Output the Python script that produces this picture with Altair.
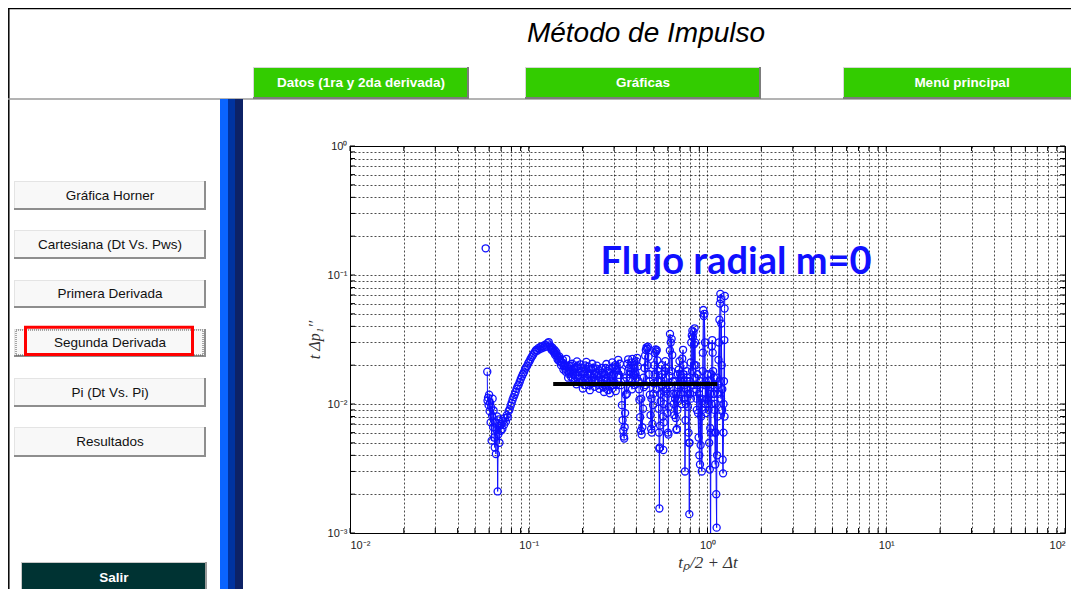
import altair as alt
import pandas as pd

# ---------------- texts ----------------
title_text = "Método de Impulso"
top_buttons = ["Datos (1ra y 2da derivada)", "Gráficas", "Menú principal"]
side_buttons = ["Gráfica Horner", "Cartesiana (Dt Vs. Pws)", "Primera Derivada",
                "Segunda Derivada", "Pi (Dt Vs. Pi)", "Resultados"]
exit_button = "Salir"
annotation = "Flujo radial m=0"
x_title = "tₚ/2 + Δt"
y_title = "t Δp₁′′"

# ---------------- axes ----------------
x_ticks = [0.01, 0.02, 0.03, 0.04, 0.05, 0.06, 0.07, 0.08, 0.09,
           0.1, 0.2, 0.3, 0.4, 0.5, 0.6, 0.7, 0.8, 0.9,
           1, 2, 3, 4, 5, 6, 7, 8, 9,
           10, 20, 30, 40, 50, 60, 70, 80, 90, 100]
y_ticks = [0.001, 0.002, 0.003, 0.004, 0.005, 0.006, 0.007, 0.008, 0.009,
           0.01, 0.02, 0.03, 0.04, 0.05, 0.06, 0.07, 0.08, 0.09,
           0.1, 0.2, 0.3, 0.4, 0.5, 0.6, 0.7, 0.8, 0.9, 1]
x_decades = [0.01, 0.1, 1, 10, 100]
x_decade_labels = ["10⁻²", "10⁻¹", "10⁰", "10¹", "10²"]
y_decades = [0.001, 0.01, 0.1, 1]
y_decade_labels = ["10⁻³", "10⁻²", "10⁻¹", "10⁰"]

# ---------------- data ----------------
outlier = [(0.0574, 0.161)]
early = [(0.0586, 0.0178), (0.0588, 0.0106), (0.0592, 0.0112), (0.0596, 0.0098),
         (0.0600, 0.0118), (0.0604, 0.0088), (0.0608, 0.0102), (0.0612, 0.0072),
         (0.0616, 0.0094), (0.0620, 0.0052), (0.0624, 0.0081), (0.0628, 0.0110),
         (0.0632, 0.0066), (0.0636, 0.0089), (0.0640, 0.0055), (0.0645, 0.0046),
         (0.0650, 0.0072), (0.0655, 0.0041), (0.0660, 0.0063), (0.0665, 0.0080),
         (0.0670, 0.0021), (0.0675, 0.0058), (0.0680, 0.0076), (0.0686, 0.0050),
         (0.0692, 0.0068), (0.0698, 0.0062)]
rise = [(0.0705, 0.0070), (0.0712, 0.0064), (0.0720, 0.0074), (0.0728, 0.0069),
        (0.0736, 0.0078), (0.0745, 0.0073), (0.0754, 0.0082), (0.0763, 0.0079),
        (0.0772, 0.0088), (0.0782, 0.0091), (0.0792, 0.0097), (0.0802, 0.0102),
        (0.0812, 0.0108), (0.0822, 0.0113), (0.0833, 0.0118), (0.0844, 0.0124),
        (0.0855, 0.0131), (0.0866, 0.0137), (0.0878, 0.0141), (0.0890, 0.0148),
        (0.0902, 0.0156), (0.0914, 0.0163), (0.0927, 0.0170), (0.0940, 0.0176),
        (0.0953, 0.0185), (0.0966, 0.0192), (0.0980, 0.0198), (0.0994, 0.0207),
        (0.1008, 0.0214), (0.1022, 0.0222), (0.1037, 0.0231), (0.1052, 0.0238),
        (0.1067, 0.0246), (0.1083, 0.0254), (0.1099, 0.0262), (0.1115, 0.0259),
        (0.1131, 0.0271), (0.1148, 0.0266), (0.1165, 0.0278), (0.1182, 0.0270),
        (0.1200, 0.0282), (0.1218, 0.0275), (0.1236, 0.0288), (0.1255, 0.0279),
        (0.1274, 0.0296), (0.1293, 0.0302)]
plateau = [(0.1313, 0.0285), (0.1333, 0.0268), (0.1353, 0.0274), (0.1374, 0.0256),
           (0.1395, 0.0262), (0.1416, 0.0246), (0.1438, 0.0238), (0.1460, 0.0228),
           (0.1482, 0.0234), (0.1505, 0.0214), (0.1528, 0.0208), (0.1551, 0.0220),
           (0.1575, 0.0196), (0.1599, 0.0188), (0.1623, 0.0224), (0.1648, 0.0182),
           (0.1673, 0.0171), (0.1699, 0.0196), (0.1725, 0.0162), (0.1751, 0.0205),
           (0.1778, 0.0175), (0.1805, 0.0150), (0.1833, 0.0192), (0.1861, 0.0214),
           (0.1889, 0.0166), (0.1918, 0.0148), (0.1947, 0.0203), (0.1977, 0.0178),
           (0.2007, 0.0132), (0.2038, 0.0158), (0.2069, 0.0199), (0.2100, 0.0212),
           (0.2132, 0.0170), (0.2165, 0.0140), (0.2198, 0.0128), (0.2232, 0.0186),
           (0.2266, 0.0205), (0.2300, 0.0160), (0.2336, 0.0136), (0.2371, 0.0175),
           (0.2407, 0.0198), (0.2444, 0.0152), (0.2482, 0.0131), (0.2520, 0.0168),
           (0.2558, 0.0190), (0.2597, 0.0145), (0.2637, 0.0124), (0.2677, 0.0158),
           (0.2718, 0.0204), (0.2760, 0.0180), (0.2802, 0.0139), (0.2844, 0.0121),
           (0.2888, 0.0166), (0.2932, 0.0210), (0.2977, 0.0192), (0.3022, 0.0147),
           (0.3069, 0.0126), (0.3116, 0.0183)]
plateau_more = [(0.1322, 0.0276), (0.1343, 0.0262), (0.1364, 0.0266), (0.1385, 0.0250),
                (0.1405, 0.0240), (0.1427, 0.0252), (0.1449, 0.0222), (0.1471, 0.0216),
                (0.1494, 0.0226), (0.1516, 0.0200), (0.1540, 0.0210), (0.1563, 0.0185),
                (0.1587, 0.0202), (0.1611, 0.0178), (0.1636, 0.0196), (0.1661, 0.0160),
                (0.1686, 0.0188), (0.1712, 0.0176), (0.1738, 0.0198), (0.1765, 0.0158),
                (0.1792, 0.0186), (0.1819, 0.0168), (0.1847, 0.0142), (0.1875, 0.0196),
                (0.1904, 0.0176), (0.1933, 0.0160), (0.1962, 0.0190), (0.1992, 0.0150),
                (0.2022, 0.0172), (0.2053, 0.0140), (0.2085, 0.0186), (0.2116, 0.0160),
                (0.2148, 0.0195), (0.2181, 0.0150), (0.2215, 0.0172), (0.2249, 0.0145),
                (0.2283, 0.0190), (0.2318, 0.0170), (0.2354, 0.0150), (0.2389, 0.0188),
                (0.2426, 0.0165), (0.2463, 0.0140), (0.2501, 0.0182), (0.2539, 0.0155),
                (0.2578, 0.0175), (0.2617, 0.0135), (0.2657, 0.0170), (0.2698, 0.0190),
                (0.2739, 0.0150), (0.2781, 0.0128), (0.2823, 0.0175), (0.2866, 0.0150),
                (0.2910, 0.0190), (0.2955, 0.0140), (0.3000, 0.0170), (0.3045, 0.0200),
                (0.3092, 0.0140)]
late = [(0.3165, 0.0220), (0.3200, 0.0168), (0.3240, 0.0205), (0.3280, 0.0140),
        (0.3320, 0.0098), (0.3350, 0.0075), (0.3380, 0.0062), (0.3400, 0.0056),
        (0.3420, 0.0054), (0.3440, 0.0066), (0.3460, 0.0085), (0.3490, 0.0118),
        (0.3520, 0.0160), (0.3560, 0.0205), (0.3600, 0.0222), (0.3640, 0.0190),
        (0.3680, 0.0158), (0.3720, 0.0178), (0.3760, 0.0210), (0.3800, 0.0224),
        (0.3840, 0.0200), (0.3880, 0.0168), (0.3920, 0.0140), (0.3960, 0.0172),
        (0.4000, 0.0215), (0.4040, 0.0228), (0.4080, 0.0196), (0.4120, 0.0150),
        (0.4160, 0.0108), (0.4200, 0.0079), (0.4240, 0.0062), (0.4280, 0.0058),
        (0.4320, 0.0066), (0.4360, 0.0092), (0.4400, 0.0135), (0.4440, 0.0190),
        (0.4480, 0.0238), (0.4520, 0.0262), (0.4560, 0.0275), (0.4600, 0.0268),
        (0.4640, 0.0278), (0.4680, 0.0232), (0.4720, 0.0170), (0.4760, 0.0118),
        (0.4800, 0.0082), (0.4840, 0.0064), (0.4880, 0.0060), (0.4920, 0.0070),
        (0.4960, 0.0098), (0.5000, 0.0145), (0.5040, 0.0200), (0.5080, 0.0248),
        (0.5120, 0.0265), (0.5160, 0.0255), (0.5200, 0.0262), (0.5240, 0.0218),
        (0.5280, 0.0150), (0.5320, 0.0092), (0.5350, 0.0060), (0.5370, 0.0045),
        (0.5380, 0.00155), (0.5400, 0.0046), (0.5430, 0.0068), (0.5470, 0.0105),
        (0.5510, 0.0150), (0.5550, 0.0200), (0.5590, 0.0170), (0.5630, 0.0080),
        (0.5660, 0.0044), (0.5690, 0.0072), (0.5730, 0.0125), (0.5770, 0.0180),
        (0.5810, 0.0215), (0.5860, 0.0190), (0.5910, 0.0130), (0.5960, 0.0085),
        (0.6010, 0.0060), (0.6040, 0.0058), (0.6080, 0.0095), (0.6120, 0.0165),
        (0.6160, 0.0260), (0.6170, 0.0349), (0.6230, 0.0300), (0.6300, 0.0320),
        (0.6350, 0.0240), (0.6400, 0.0150), (0.6460, 0.0100), (0.6520, 0.0082),
        (0.6580, 0.0110), (0.6640, 0.0078), (0.6700, 0.0063), (0.6740, 0.0064),
        (0.6790, 0.0090), (0.6850, 0.0140), (0.6910, 0.0185), (0.6970, 0.0215),
        (0.7030, 0.0170), (0.7090, 0.0120), (0.7150, 0.0160), (0.7220, 0.0225),
        (0.7300, 0.0263), (0.7360, 0.0200), (0.7420, 0.0110), (0.7480, 0.0030),
        (0.7530, 0.0075), (0.7590, 0.0130), (0.7650, 0.0180), (0.7710, 0.0150),
        (0.7770, 0.0095), (0.7830, 0.0060), (0.7880, 0.0050), (0.7910, 0.0014),
        (0.7940, 0.0050), (0.7990, 0.0120), (0.8050, 0.0210), (0.8110, 0.0300),
        (0.8170, 0.0340), (0.8230, 0.0370), (0.8290, 0.0330), (0.8350, 0.0360),
        (0.8410, 0.0290), (0.8470, 0.0386), (0.8530, 0.0300), (0.8590, 0.0200),
        (0.8650, 0.0130), (0.8710, 0.0090), (0.8780, 0.0140), (0.8850, 0.0085),
        (0.8920, 0.0055), (0.9000, 0.0040), (0.9080, 0.0034), (0.9150, 0.0048),
        (0.9220, 0.0080), (0.9290, 0.0030), (0.9360, 0.0090), (0.9420, 0.0250),
        (0.9480, 0.0535), (0.9540, 0.0480), (0.9600, 0.0500), (0.9680, 0.0300),
        (0.9750, 0.0150), (0.9820, 0.0085), (0.9900, 0.0110), (0.9980, 0.0170),
        (1.0060, 0.0140), (1.0140, 0.0090), (1.0220, 0.0050), (1.0300, 0.0031),
        (1.0360, 0.0065), (1.0400, 0.0005), (1.0450, 0.0060), (1.0510, 0.0170),
        (1.0570, 0.0280), (1.0630, 0.0313), (1.0690, 0.0250), (1.0750, 0.0180),
        (1.0810, 0.0120), (1.0870, 0.0160), (1.0930, 0.0090), (1.0990, 0.0060),
        (1.1050, 0.0034), (1.1120, 0.0060), (1.1190, 0.0020), (1.1250, 0.0011),
        (1.1310, 0.0040), (1.1380, 0.0080), (1.1450, 0.0140), (1.1520, 0.0220),
        (1.1590, 0.0300), (1.1660, 0.0450), (1.1730, 0.0600), (1.1800, 0.0713),
        (1.1870, 0.0650), (1.1940, 0.0420), (1.2010, 0.0200), (1.2080, 0.0090),
        (1.2150, 0.0037), (1.2220, 0.0029), (1.2290, 0.0060), (1.2360, 0.0150),
        (1.2420, 0.0313), (1.2460, 0.0550), (1.2500, 0.0688)]
late_more = [(0.3300, 0.0180), (0.3430, 0.0150), (0.3540, 0.0120), (0.3660, 0.0170),
             (0.3780, 0.0130), (0.3900, 0.0190), (0.4020, 0.0160), (0.4140, 0.0130),
             (0.4260, 0.0110), (0.4380, 0.0160), (0.4500, 0.0140), (0.4620, 0.0200),
             (0.4740, 0.0150), (0.4860, 0.0110), (0.4980, 0.0120), (0.5060, 0.0170),
             (0.5180, 0.0130), (0.5300, 0.0180), (0.5450, 0.0120), (0.5570, 0.0140),
             (0.5710, 0.0100), (0.5840, 0.0160), (0.5990, 0.0120), (0.6100, 0.0140),
             (0.6270, 0.0180), (0.6430, 0.0120), (0.6560, 0.0150), (0.6680, 0.0120),
             (0.6820, 0.0170), (0.6940, 0.0110), (0.7060, 0.0150), (0.7190, 0.0100),
             (0.7330, 0.0170), (0.7450, 0.0140), (0.7570, 0.0100), (0.7680, 0.0160),
             (0.7800, 0.0120), (0.7960, 0.0150), (0.8080, 0.0110), (0.8200, 0.0180),
             (0.8320, 0.0140), (0.8440, 0.0200), (0.8560, 0.0160), (0.8680, 0.0110),
             (0.8800, 0.0170), (0.8960, 0.0120), (0.9120, 0.0150), (0.9260, 0.0110),
             (0.9400, 0.0180), (0.9560, 0.0140), (0.9720, 0.0100), (0.9860, 0.0140),
             (1.0020, 0.0100), (1.0180, 0.0150), (1.0340, 0.0120), (1.0550, 0.0100),
             (1.0720, 0.0140), (1.0900, 0.0120), (1.1100, 0.0100), (1.1300, 0.0160),
             (1.1480, 0.0120), (1.1700, 0.0150), (1.1900, 0.0110), (1.2100, 0.0130),
             (1.2300, 0.0100), (1.2450, 0.0080)]
fit_x = [0.137, 1.135]
fit_y = [0.0143, 0.0143]

# ---------------- build tables ----------------
main = sorted(early + rise + plateau + plateau_more + late + late_more)
rows = []
for seg_name, seg in [("outlier", outlier), ("main", main)]:
    for i, (xv, yv) in enumerate(seg):
        rows.append({"x": xv, "y": yv, "seg": seg_name, "i": i})
df = pd.DataFrame(rows)
fit_df = pd.DataFrame({"x": fit_x, "y": fit_y})
xt_df = pd.DataFrame({"x": x_ticks})
yt_df = pd.DataFrame({"y": y_ticks})

# ---------------- layout ----------------
W, H = 715, 387
OX, OY = 350, 146           # page position of the plot area's top-left corner
PAD = {"left": OX - 8, "top": OY - 8, "right": 6, "bottom": 56}


def px(v):
    return v - OX


def py(v):
    return v - OY


one = alt.Data(values=[{"k": 0}])


def box(x1, y1, x2, y2, **kw):
    return alt.Chart(one).mark_rect(**kw).encode(
        x=alt.value(px(x1)), x2=alt.value(px(x2)),
        y=alt.value(py(y1)), y2=alt.value(py(y2)))


def label(s, x, y, **kw):
    return alt.Chart(one).mark_text(**kw).encode(
        x=alt.value(px(x)), y=alt.value(py(y)), text=alt.value(s))


def hrule(x1, x2, y, color, w):
    return alt.Chart(one).mark_rule(color=color, strokeWidth=w).encode(
        x=alt.value(px(x1)), x2=alt.value(px(x2)), y=alt.value(py(y)))


def vrule(x, y1, y2, color, w):
    return alt.Chart(one).mark_rule(color=color, strokeWidth=w).encode(
        x=alt.value(px(x)), y=alt.value(py(y1)), y2=alt.value(py(y2)))


decor = []
# window frame and header separator
decor.append(hrule(8, 1079, 8.5, "black", 1.5))
decor.append(vrule(8.8, 8, 600, "black", 1.5))
decor.append(hrule(8, 1079, 99, "#9a9a9a", 1.5))
# title
decor.append(label(title_text, 646, 42, font="Liberation Sans", fontSize=28,
                   fontStyle="italic", color="black", align="center",
                   baseline="alphabetic"))
# green top buttons
for text, (x1, x2) in zip(top_buttons, [(253, 469), (525, 761), (843, 1081)]):
    y1, y2 = 67, 99
    decor.append(box(x1, y1, x2, y2, fill="#7c7c7c"))
    decor.append(box(x1, y1, x2 - 2, y2 - 2, fill="#d6d6d6"))
    decor.append(box(x1 + 1, y1 + 1, x2 - 2, y2 - 2, fill="#33cc00"))
    decor.append(label(text, (x1 + x2) / 2, 83, font="Liberation Sans", fontSize=13.5,
                       fontWeight="bold", color="white", align="center",
                       baseline="middle"))
# blue vertical bars
decor.append(box(220, 99, 228, 600, fill="#0a64ff"))
decor.append(box(228, 99, 235, 600, fill="#0033a0"))
decor.append(box(235, 99, 243, 600, fill="#0d2266"))
# side buttons
side_rows = [(181, 210), (230, 259), (280, 308), (329, 357), (378, 407), (427, 457)]
for text, (y1, y2) in zip(side_buttons, side_rows):
    x1, x2 = 14, 206
    decor.append(box(x1, y1, x2, y2, fill="#8e8e8e"))
    decor.append(box(x1, y1, x2 - 2, y2 - 2, fill="#e4e4e4"))
    decor.append(box(x1 + 1, y1 + 1, x2 - 2, y2 - 2, fill="#f8f8f8"))
    decor.append(label(text, 110, (y1 + y2) / 2, font="Liberation Sans", fontSize=13.5,
                       color="#111111", align="center", baseline="middle"))
# focus marks on "Segunda Derivada"
decor.append(box(16, 330, 203, 355, fillOpacity=0, stroke="#555555", strokeWidth=1,
                 strokeDash=[1, 1]))
decor.append(box(25.5, 327.2, 192.5, 354.5, fillOpacity=0, stroke="#ff0000",
                 strokeWidth=3))
# exit button
decor.append(box(21, 562, 207, 594, fill="#9a9a9a"))
decor.append(box(21, 562, 205, 592, fill="#c8c8c8"))
decor.append(box(22, 563, 205, 592, fill="#003333"))
decor.append(label(exit_button, 114, 578, font="Liberation Sans", fontSize=13.5,
                   fontWeight="bold", color="white", align="center", baseline="middle"))


# ---------------- plot ----------------
def label_expr(values, labels):
    parts = [f"datum.value == {v} ? '{lab}'" for v, lab in zip(values, labels)]
    return " : ".join(parts) + " : ''"


x_axis = alt.Axis(values=x_ticks, labelExpr=label_expr(x_decades, x_decade_labels),
                  grid=True, gridColor="black", gridOpacity=0.7, gridDash=[2, 2],
                  gridWidth=1, ticks=False, domain=False, labelOverlap=False,
                  labelFont="Liberation Sans", labelFontSize=11, labelColor="#222222",
                  labelPadding=6, title=x_title, titleFont="Liberation Serif",
                  titleFontStyle="italic", titleFontWeight="normal", titleFontSize=17,
                  titleColor="#333333", titlePadding=4)
y_axis = alt.Axis(values=y_ticks, labelExpr=label_expr(y_decades, y_decade_labels),
                  grid=True, gridColor="black", gridOpacity=0.7, gridDash=[2, 2],
                  gridWidth=1, ticks=False, domain=False, labelOverlap=False,
                  labelFont="Liberation Sans", labelFontSize=11, labelColor="#222222",
                  labelPadding=3, title=y_title, titleFont="Liberation Serif",
                  titleFontStyle="italic", titleFontWeight="normal", titleFontSize=16,
                  titleColor="#333333", titlePadding=5)

X = alt.X("x:Q", scale=alt.Scale(type="log", domain=[0.01, 100]), axis=x_axis)
Y = alt.Y("y:Q", scale=alt.Scale(type="log", domain=[0.001, 1]), axis=y_axis)

line = alt.Chart(df).mark_line(color="#1010ff", strokeWidth=1, clip=True).encode(
    x=X, y=Y, detail="seg:N", order="i:Q")
points = alt.Chart(df).mark_point(shape="circle", filled=False, size=50,
                                  color="#1010ff", strokeWidth=1.3, opacity=1,
                                  clip=True).encode(x=X, y=Y)
fit = alt.Chart(fit_df).mark_line(color="black", strokeWidth=4, clip=True).encode(x=X, y=Y)

tick_bottom = alt.Chart(xt_df).mark_rule(color="black").encode(
    x=X, y=alt.value(H), y2=alt.value(H - 5))
tick_top = alt.Chart(xt_df).mark_rule(color="black").encode(
    x=X, y=alt.value(0), y2=alt.value(5))
tick_left = alt.Chart(yt_df).mark_rule(color="black").encode(
    y=Y, x=alt.value(0), x2=alt.value(5))
tick_right = alt.Chart(yt_df).mark_rule(color="black").encode(
    y=Y, x=alt.value(W), x2=alt.value(W - 5))

note = label(annotation, 736, 274, font="Lato", fontSize=38, fontWeight="bold",
             color="#1010ff", align="center", baseline="alphabetic")

chart = alt.layer(
    *decor, line, points, fit, tick_bottom, tick_top, tick_left, tick_right, note
).properties(
    width=W, height=H, padding=PAD,
    autosize=alt.AutoSizeParams(type="none"),
    background="white",
).configure_view(stroke="black", strokeWidth=1)

chart.save("out.html", embed_options={"renderer": "svg", "actions": False})
